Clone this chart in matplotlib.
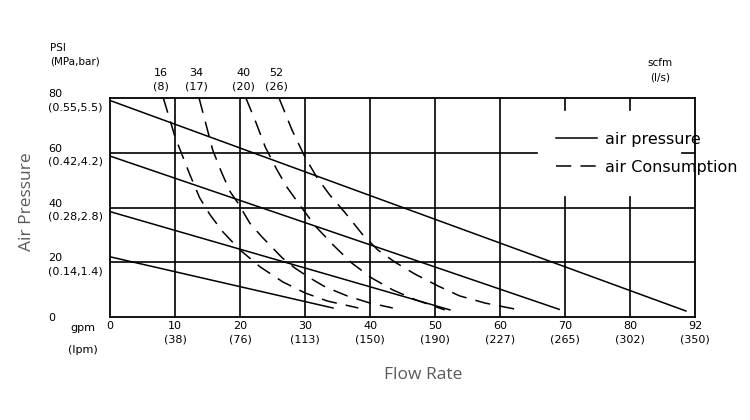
import numpy as np
import matplotlib.pyplot as plt
from matplotlib.lines import Line2D
import matplotlib.transforms as mtransforms

# axis ticks
gpm_ticks = [0, 10, 20, 30, 40, 50, 60, 70, 80, 90]
gpm_labels = ['0', '10\n(38)', '20\n(76)', '30\n(113)', '40\n(150)', '50\n(190)',
              '60\n(227)', '70\n(265)', '80\n(302)', '92\n(350)']
psi_ticks = [0, 20, 40, 60, 80]
psi_labels = ['0', '20\n(0.14,1.4)', '40\n(0.28,2.8)', '60\n(0.42,4.2)', '80\n(0.55,5.5)']

# air pressure lines (start psi at 0 flow, end point)
press_start_psi = [79.1, 58.8, 38.5, 22.0]
press_end_flow = [88.6, 69.1, 52.3, 34.3]
press_end_psi = [2.2, 2.8, 2.6, 3.3]

# air consumption curves
scfm_labels = ['16\n(8)', '34\n(17)', '40\n(20)', '52\n(26)']
c16_flow = [8.2, 10.0, 12.3, 13.8, 15.4, 17.4, 20.0, 23.1, 26.6, 30.0, 33.5, 36.9, 38.2]
c16_psi = [80, 65.8, 51.9, 43.5, 37.3, 31.0, 24.5, 18.3, 12.8, 8.8, 5.8, 4.0, 3.3]
c34_flow = [13.7, 15.8, 17.2, 18.5, 19.7, 21.5, 23.4, 26.5, 28.5, 30.8, 33.1, 36.5, 40.0, 43.5]
c34_psi = [80, 61.0, 52.6, 45.7, 41.6, 34.3, 29.2, 21.6, 17.8, 14.2, 11.0, 7.7, 5.1, 3.3]
c40_flow = [20.9, 22.3, 23.9, 25.7, 27.2, 29.4, 31.7, 34.5, 37.2, 40.3, 43.5, 47.1, 51.5]
c40_psi = [80, 72.0, 62.0, 53.7, 47.5, 40.2, 32.9, 25.9, 19.7, 14.2, 9.9, 6.2, 2.6]
c52_flow = [26.0, 28.0, 30.0, 31.8, 33.8, 36.2, 38.9, 41.2, 43.8, 46.9, 50.5, 53.8, 57.7, 62.3]
c52_psi = [80, 68.3, 58.4, 51.1, 44.6, 38.0, 30.0, 24.5, 20.1, 15.7, 11.3, 7.7, 5.1, 2.9]

fig = plt.figure(figsize=(7.5, 4.2), dpi=100)
ax = fig.add_axes([0.1467, 0.2452, 0.78, 0.5214])
ax.set_xlim(0, 90)
ax.set_ylim(0, 80)

lw_grid = 1.2
# grid, leaving a blank area for the legend
for x in gpm_ticks[1:-1]:
    if x in (70, 80):
        ax.axvline(x, ymin=0, ymax=43.8 / 80, color='black', lw=lw_grid)
        ax.axvline(x, ymin=75.6 / 80, ymax=1, color='black', lw=lw_grid)
    else:
        ax.axvline(x, color='black', lw=lw_grid)
for y in psi_ticks[1:-1]:
    if y == 60:
        ax.axhline(y, xmin=0, xmax=65.7 / 90, color='black', lw=lw_grid)
        ax.axhline(y, xmin=88.0 / 90, xmax=1, color='black', lw=lw_grid)
    else:
        ax.axhline(y, color='black', lw=lw_grid)

for s, f, p in zip(press_start_psi, press_end_flow, press_end_psi):
    ax.plot([0, f], [s, p], color='black', lw=1.1)

dash = (0, (10, 6))
curves = [(c16_flow, c16_psi), (c34_flow, c34_psi), (c40_flow, c40_psi), (c52_flow, c52_psi)]
for fl, ps in curves:
    ax.plot(fl, ps, color='black', lw=1.1, linestyle=dash)

for sp in ax.spines.values():
    sp.set_linewidth(1.3)

ax.set_xticks(gpm_ticks, gpm_labels, fontsize=8, linespacing=1.4)
ax.set_yticks(psi_ticks, psi_labels, fontsize=8, linespacing=1.4)
ax.tick_params(axis='x', length=0, pad=3)
ax.tick_params(axis='y', length=0, pad=44.6)
for lab in ax.get_yticklabels():
    lab.set_horizontalalignment('left')

# scfm labels above each consumption curve
top = mtransforms.blended_transform_factory(ax.transData, ax.transAxes)
for (fl, ps), lab in zip(curves, scfm_labels):
    ax.text(fl[0] - 0.4, 1.03, lab, transform=top, ha='center', va='bottom',
            fontsize=8, linespacing=1.4)
ax.text(84.6, 1.07, 'scfm\n(l/s)', transform=top, ha='center', va='bottom',
        fontsize=7.5, linespacing=1.6)

fig.text(50 / 750, 1 - 55 / 420, 'PSI\n(MPa,bar)', ha='left', va='center',
         fontsize=7.5, linespacing=1.5)
fig.text(83 / 750, 1 - 328 / 420, 'gpm', ha='center', va='center', fontsize=8)
fig.text(83 / 750, 1 - 350 / 420, '(lpm)', ha='center', va='center', fontsize=8)

fig.text(27 / 750, 1 - 202 / 420, 'Air Pressure', rotation=90, ha='center', va='center',
         fontsize=12.5, color='#5a5a5a', family='Open Sans')
fig.text(423 / 750, 1 - 375 / 420, 'Flow Rate', ha='center', va='center',
         fontsize=12.5, color='#5a5a5a', family='Open Sans')

handles = [Line2D([], [], color='black', lw=1.1),
           Line2D([], [], color='black', lw=1.1, linestyle=dash)]
ax.legend(handles, ['air pressure', 'air Consumption'], loc='center left',
          bbox_to_anchor=(0.762, 0.747), frameon=False, fontsize=11.5,
          handlelength=2.6, handletextpad=0.5, labelspacing=0.8,
          borderpad=0, borderaxespad=0)

fig.savefig('out.png', dpi=100)
